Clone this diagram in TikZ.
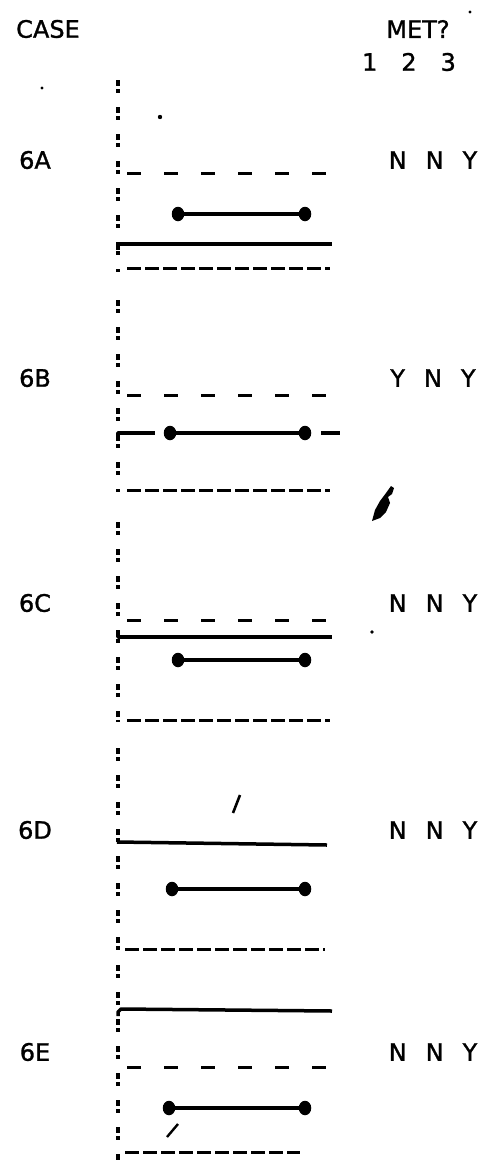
\documentclass[tikz,border=0pt]{standalone}
\usepackage{fontspec}
\setmainfont{DejaVu Sans}[FakeBold=1.2]
\usetikzlibrary{shapes.geometric}
\begin{document}
\begin{tikzpicture}[x=1pt,y=-1pt,
  txt/.style={font=\fontsize{24}{24}\selectfont, inner sep=0pt, anchor=center},
  vdots/.style={line width=3.2pt, dash pattern=on 6pt off 3pt on 4pt off 14pt},
  solidline/.style={line width=3.5pt, line join=round},
  wdash/.style={line width=3pt, dash pattern=on 14pt off 23pt},
  ndash/.style={line width=3pt, dash pattern=on 14pt off 4pt},
  segline/.style={line width=3.2pt},
  endpt/.style={ellipse, fill=black, inner sep=0pt, minimum width=12.5pt, minimum height=14.5pt},
  speck/.style={fill=black}
]
\fill[white] (0,0) rectangle (492,1168);
\useasboundingbox (0,0) rectangle (492,1168);

% header
\node[txt] (case) at (48,29) {CASE};
\node[txt] (met) at (418,29) {MET?};
\node[txt] (cols) at (409,62) {\spaceskip=24pt 1 2 3};

% 6A
\node[txt] (l6a) at (35,160) {6A};
\node[txt] (m6a) at (433,160) {\spaceskip=19pt N N Y};
\draw[vdots] (118,80) -- (118,272);
\draw[wdash] (127,173) -- (330,173);
\node[endpt] (a1) at (178,214) {};
\node[endpt] (a2) at (305,214) {};
\draw[segline] (a1) -- (a2);
\draw[solidline] (118,250) -- (118,244) -- (332,244);
\draw[ndash] (127,268) -- (330,268);

% 6B
\node[txt] (l6b) at (35,378) {6B};
\node[txt] (m6b) at (433,378) {\spaceskip=19pt Y N Y};
\draw[vdots] (118,300) -- (118,492);
\draw[wdash] (127,395) -- (330,395);
\node[endpt] (b1) at (170,433) {};
\node[endpt] (b2) at (305,433) {};
\draw[segline] (b1) -- (b2);
\draw[solidline] (118,440) -- (118,433) -- (155,433);
\draw[solidline] (321,433) -- (340,433);
\draw[ndash] (127,490) -- (330,490);

% 6C
\node[txt] (l6c) at (35,603) {6C};
\node[txt] (m6c) at (433,603) {\spaceskip=19pt N N Y};
\draw[vdots] (118,522) -- (118,722);
\draw[wdash] (127,620) -- (330,620);
\draw[solidline] (118,632) -- (118,637) -- (332,637);
\node[endpt] (c1) at (178,660) {};
\node[endpt] (c2) at (305,660) {};
\draw[segline] (c1) -- (c2);
\draw[ndash] (127,720) -- (330,720);

% 6D
\node[txt] (l6d) at (35,830) {6D};
\node[txt] (m6d) at (433,830) {\spaceskip=19pt N N Y};
\draw[vdots] (118,748) -- (118,950);
\draw[line width=2.6pt] (233,813) -- (240,795);
\draw[solidline] (117,842) -- (327,845);
\node[endpt] (d1) at (172,889) {};
\node[endpt] (d2) at (305,889) {};
\draw[segline] (d1) -- (d2);
\draw[ndash] (125,949) -- (325,949);

% 6E
\node[txt] (l6e) at (35,1052) {6E};
\node[txt] (m6e) at (433,1052) {\spaceskip=19pt N N Y};
\draw[vdots] (118,965) -- (118,1160);
\draw[solidline] (118,1016) -- (118,1012) -- (121,1009) -- (332,1011);
\draw[wdash] (127,1067) -- (330,1067);
\node[endpt] (e1) at (169,1108) {};
\node[endpt] (e2) at (305,1108) {};
\draw[segline] (e1) -- (e2);
\draw[line width=2.4pt] (167,1137) -- (178,1124);
\draw[ndash] (125,1152) -- (300,1152);

% scan specks
\fill[speck] (372,521) -- (375,510) -- (380,501) -- (386,493) -- (391,486) -- (394,488) -- (392,494) -- (388,497) -- (390,503) -- (386,512) -- (380,518) -- cycle;
\fill[speck] (42,88) circle (1.6pt);
\fill[speck] (160,117) circle (2.2pt);
\fill[speck] (470,12) circle (1.6pt);
\fill[speck] (372,632) circle (1.8pt);
\end{tikzpicture}
\end{document}
